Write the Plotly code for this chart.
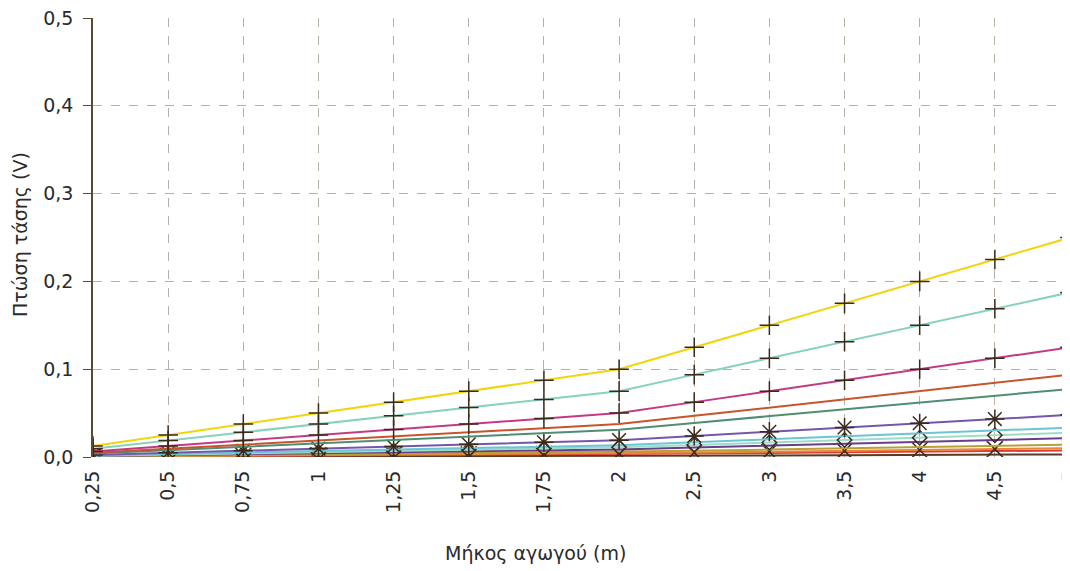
import plotly.graph_objects as go

lengths = ["0,25", "0,5", "0,75", "1", "1,25", "1,5", "1,75", "2", "2,5", "3", "3,5", "4", "4,5", "5"]

s_yellow  = [0.0125, 0.025, 0.0375, 0.05, 0.0625, 0.075, 0.0875, 0.1, 0.125, 0.15, 0.175, 0.2, 0.225, 0.25]
s_teal    = [0.0094, 0.0188, 0.0281, 0.0375, 0.0469, 0.0563, 0.0656, 0.075, 0.0938, 0.1125, 0.1313, 0.15, 0.1688, 0.1875]
s_magenta = [0.0063, 0.0125, 0.0188, 0.025, 0.0313, 0.0375, 0.0438, 0.05, 0.0625, 0.075, 0.0875, 0.1, 0.1125, 0.125]
s_rust    = [0.0047, 0.0094, 0.0141, 0.0188, 0.0234, 0.0281, 0.0328, 0.0375, 0.0469, 0.0563, 0.0656, 0.075, 0.0844, 0.0938]
s_green   = [0.0039, 0.0078, 0.0117, 0.0155, 0.0194, 0.0233, 0.0271, 0.031, 0.0388, 0.0465, 0.0543, 0.062, 0.0698, 0.0775]
s_purple  = [0.0024, 0.0048, 0.0072, 0.0096, 0.012, 0.0144, 0.0168, 0.0192, 0.024, 0.0288, 0.0336, 0.0384, 0.0432, 0.048]
s_cyan    = [0.0017, 0.0034, 0.005, 0.0067, 0.0084, 0.0101, 0.0117, 0.0134, 0.0168, 0.0201, 0.0235, 0.0268, 0.0302, 0.0335]
s_mint    = [0.0014, 0.0028, 0.0041, 0.0055, 0.0069, 0.0083, 0.0096, 0.011, 0.0138, 0.0165, 0.0193, 0.022, 0.0248, 0.0275]
s_violet  = [0.0011, 0.0022, 0.0032, 0.0043, 0.0054, 0.0065, 0.0075, 0.0086, 0.0108, 0.0129, 0.0151, 0.0172, 0.0194, 0.0215]
s_olive   = [0.0007, 0.0014, 0.0021, 0.0028, 0.0035, 0.0042, 0.0049, 0.0056, 0.007, 0.0084, 0.0098, 0.0112, 0.0126, 0.014]
s_orange  = [0.0005, 0.001, 0.0015, 0.002, 0.0025, 0.003, 0.0035, 0.004, 0.005, 0.006, 0.007, 0.008, 0.009, 0.01]
s_red     = [0.0004, 0.0008, 0.0011, 0.0015, 0.0019, 0.0023, 0.0026, 0.003, 0.0038, 0.0045, 0.0053, 0.006, 0.0068, 0.0075]
s_brown   = [0.0002, 0.0003, 0.0005, 0.0006, 0.0008, 0.0009, 0.0011, 0.0012, 0.0015, 0.0018, 0.0021, 0.0024, 0.0027, 0.003]

x_title = "Μήκος αγωγού (m)"
y_title = "Πτώση τάσης (V)"

series = [
    (s_brown,   "#5a3a22", None),
    (s_red,     "#e03a34", None),
    (s_orange,  "#e8873a", "x-thin-open"),
    (s_olive,   "#b8a038", None),
    (s_violet,  "#6a3c8c", None),
    (s_mint,    "#9cdcc8", "diamond-open"),
    (s_cyan,    "#6cc4d4", None),
    (s_purple,  "#7456ac", "asterisk-open"),
    (s_green,   "#4e8e72", None),
    (s_rust,    "#c8532c", None),
    (s_magenta, "#c23a82", "cross-thin-open"),
    (s_teal,    "#86d2bc", "cross-thin-open"),
    (s_yellow,  "#f2d40c", "cross-thin-open"),
]

mk = "#3a2a1a"
fig = go.Figure()
for vals, col, sym in series:
    if sym is None:
        fig.add_trace(go.Scatter(x=lengths, y=vals, mode="lines",
                                 line=dict(color=col, width=2), showlegend=False))
    else:
        size = 14 if sym.startswith("cross") else 16
        if sym == "diamond-open":
            size = 11
        fig.add_trace(go.Scatter(x=lengths, y=vals, mode="lines+markers",
                                 line=dict(color=col, width=2),
                                 marker=dict(symbol=sym, size=size, color=mk,
                                             line=dict(color=mk, width=1.5)),
                                 showlegend=False))

grid = "#b8b0a4"
fnt = "DejaVu Sans"
fig.update_layout(
    width=1070, height=571,
    margin=dict(l=85, r=8, t=10, b=122, autoexpand=False),
    paper_bgcolor="white", plot_bgcolor="white",
    separators=",.",
    font=dict(family=fnt, size=19, color="#2a2a2a"),
    xaxis=dict(
        type="category", range=[0, 13], tickangle=-90,
        showgrid=True, gridcolor=grid, griddash="dash", gridwidth=1,
        showline=False, zeroline=False,
        ticks="outside", ticklen=5, tickcolor="rgba(0,0,0,0)",
        tickfont=dict(size=19), automargin=False, ticklabeloverflow="allow",
    ),
    yaxis=dict(
        range=[0, 0.5], dtick=0.1, tickformat=".1f",
        showgrid=True, gridcolor=grid, griddash="dash", gridwidth=1,
        showline=True, linecolor="#5a4a30", linewidth=1.5,
        ticks="outside", ticklen=8, tickcolor="#5a4a30",
        zeroline=False, tickfont=dict(size=19), automargin=False,
        ticklabeloverflow="allow", ticklabelstandoff=6,
    ),
    annotations=[
        dict(text=x_title, xref="paper", yref="paper", x=0.4534, y=-0.2187,
             xanchor="center", yanchor="middle", showarrow=False,
             font=dict(family=fnt, size=19, color="#2a2a2a")),
        dict(text=y_title, xref="paper", yref="paper", x=-0.0747, y=0.5057,
             xanchor="center", yanchor="middle", textangle=-90, showarrow=False,
             font=dict(family=fnt, size=19, color="#2a2a2a")),
    ],
)

fig.write_html("out.html")
